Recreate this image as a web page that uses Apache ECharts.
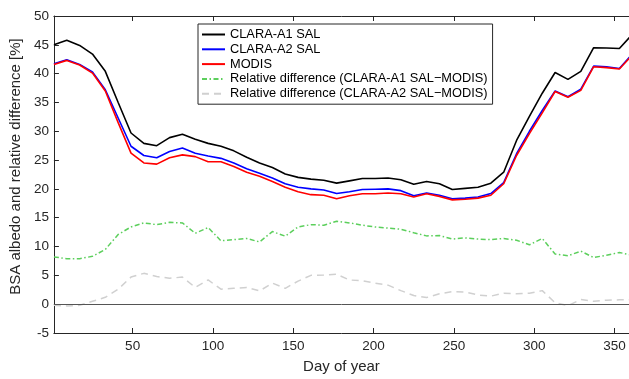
<!DOCTYPE html>
<html>
<head>
<meta charset="utf-8">
<script src="https://cdn.jsdelivr.net/npm/echarts@6/dist/echarts.min.js"></script>
<style>
html,body{margin:0;padding:0;background:#fff;}
#chart{width:629px;height:379px;}
</style>
</head>
<body>
<div id="chart"></div>
<script>
// Day of year (8-day composites)
var days = [1,9,17,25,33,41,49,57,65,73,81,89,97,105,113,121,129,137,145,153,161,169,177,185,193,201,209,217,225,233,241,249,257,265,273,281,289,297,305,313,321,329,337,345,353,361];
var claraA1 = [45.0,45.8,44.9,43.4,40.4,35.0,29.7,27.9,27.5,28.9,29.5,28.6,27.9,27.4,26.6,25.5,24.5,23.7,22.6,22.0,21.7,21.5,21.0,21.4,21.8,21.8,21.9,21.6,20.8,21.3,20.9,19.9,20.1,20.3,21.0,22.9,28.4,32.6,36.6,40.2,39.0,40.4,44.5,44.45,44.35,46.8];
var claraA2 = [41.7,42.4,41.6,40.3,37.2,32.3,27.4,25.8,25.4,26.5,27.1,26.2,25.7,25.3,24.5,23.5,22.7,21.9,20.9,20.3,20.0,19.8,19.2,19.5,19.9,19.95,20.0,19.7,18.8,19.3,18.9,18.3,18.4,18.6,19.2,21.1,26.1,30.0,33.6,37.0,36.0,37.3,41.3,41.2,40.9,43.4];
var modis = [41.6,42.3,41.5,40.1,37.0,31.5,26.2,24.5,24.3,25.4,25.9,25.6,24.7,24.7,23.9,22.9,22.2,21.3,20.3,19.5,19.0,18.9,18.3,18.8,19.15,19.15,19.3,19.15,18.6,19.15,18.7,18.1,18.2,18.4,18.9,20.9,25.8,29.6,33.2,36.9,35.9,37.1,41.2,41.05,40.8,43.2];
var relDiffA1 = [8.2,7.9,7.9,8.3,9.5,12.1,13.4,14.1,13.8,14.2,14.1,12.3,13.3,11.0,11.2,11.4,10.8,12.6,11.8,13.4,13.8,13.7,14.4,14.1,13.7,13.4,13.2,13.0,12.4,11.85,11.9,11.3,11.5,11.3,11.2,11.4,11.1,10.3,11.4,8.7,8.4,9.2,8.1,8.5,8.97,8.5];
var relDiffA2 = [-0.2,-0.3,-0.2,0.5,1.2,2.6,4.7,5.35,4.8,4.5,4.7,2.9,4.2,2.6,2.75,2.9,2.3,3.65,2.75,4.0,5.0,5.05,5.2,4.2,4.05,3.65,3.3,2.35,1.5,1.15,1.8,2.2,2.1,1.6,1.4,1.9,1.8,1.9,2.35,0.25,-0.25,0.8,0.5,0.7,0.75,0.75];
var xTicks = [50,100,150,200,250,300,350];
var seriesNames = ['CLARA-A1 SAL','CLARA-A2 SAL','MODIS','Relative difference (CLARA-A1 SAL\u2212MODIS)','Relative difference (CLARA-A2 SAL\u2212MODIS)'];
var xName = 'Day of year';
var yName = 'BSA albedo and relative difference [%]';

function pairs(vals){ return days.map(function(d,i){ return [d, vals[i]]; }); }

var FONT = "'Liberation Sans', Arial, Helvetica, sans-serif";
var AX = '#262626';
var chart = echarts.init(document.getElementById('chart'), null, {renderer:'canvas'});
var baseX = {
  type:'value', min:1, max:359,
  splitLine:{show:false},
  axisLine:{show:true, onZero:false, lineStyle:{color:AX, width:1}},
  axisTick:{show:true, inside:true, length:5, customValues:xTicks, lineStyle:{color:AX}},
  axisLabel:{customValues:xTicks, color:AX, fontFamily:FONT, fontSize:13.5, margin:6}
};
var option = {
  animation:false,
  backgroundColor:'#fff',
  textStyle:{fontFamily:FONT},
  grid:{left:49, right:0, top:16, bottom:39, show:false},
  legend:{
    orient:'vertical', left:198, top:24,
    itemWidth:23, itemHeight:14, itemGap:1.8,
    padding:[4,5,4,3],
    borderColor:AX, borderWidth:1, backgroundColor:'#fff',
    itemStyle:{color:'transparent', borderWidth:0, opacity:0},
    textStyle:{fontFamily:FONT, fontSize:12.8, color:'#000'},
    data:seriesNames
  },
  xAxis:[
    Object.assign({}, baseX, {position:'bottom', name:xName, nameLocation:'middle', nameGap:26,
      nameTextStyle:{fontFamily:FONT, fontSize:15, color:AX}}),
    Object.assign({}, baseX, {position:'top', axisLabel:{show:false}})
  ],
  yAxis:[{
    type:'value', min:-5, max:50, interval:5,
    splitLine:{show:false},
    axisLine:{show:true, onZero:false, lineStyle:{color:AX}},
    axisTick:{show:true, inside:true, length:5, lineStyle:{color:AX}},
    axisLabel:{color:AX, fontFamily:FONT, fontSize:13.5, margin:5},
    name:yName, nameLocation:'middle', nameGap:28,
    nameTextStyle:{fontFamily:FONT, fontSize:15, color:AX, padding:[0,0,0,16]}
  }],
  series:[
    {name:seriesNames[0], type:'line', data:pairs(claraA1), symbol:'none', clip:true,
      lineStyle:{color:'#000000', width:1.6}, itemStyle:{color:'#000000'}, z:5},
    {name:seriesNames[1], type:'line', data:pairs(claraA2), symbol:'none', clip:true,
      lineStyle:{color:'#0000ff', width:1.6}, itemStyle:{color:'#0000ff'}, z:4},
    {name:seriesNames[2], type:'line', data:pairs(modis), symbol:'none', clip:true,
      lineStyle:{color:'#ff0000', width:1.6}, itemStyle:{color:'#ff0000'}, z:4},
    {name:seriesNames[3], type:'line', data:pairs(relDiffA1), symbol:'none', clip:true,
      lineStyle:{color:'#5ccf5c', width:1.5, type:[5,2.5,1.5,2.5]}, itemStyle:{color:'#5ccf5c'}, z:3},
    {name:seriesNames[4], type:'line', data:pairs(relDiffA2), symbol:'none', clip:true,
      lineStyle:{color:'#d0d0d0', width:1.5, type:[7,5]}, itemStyle:{color:'#d0d0d0'}, z:3,
      markLine:{silent:true, symbol:'none', label:{show:false},
        lineStyle:{color:'#555555', width:1, type:'solid'}, data:[{yAxis:0}]}}
  ]
};
chart.setOption(option);
</script>
</body>
</html>
